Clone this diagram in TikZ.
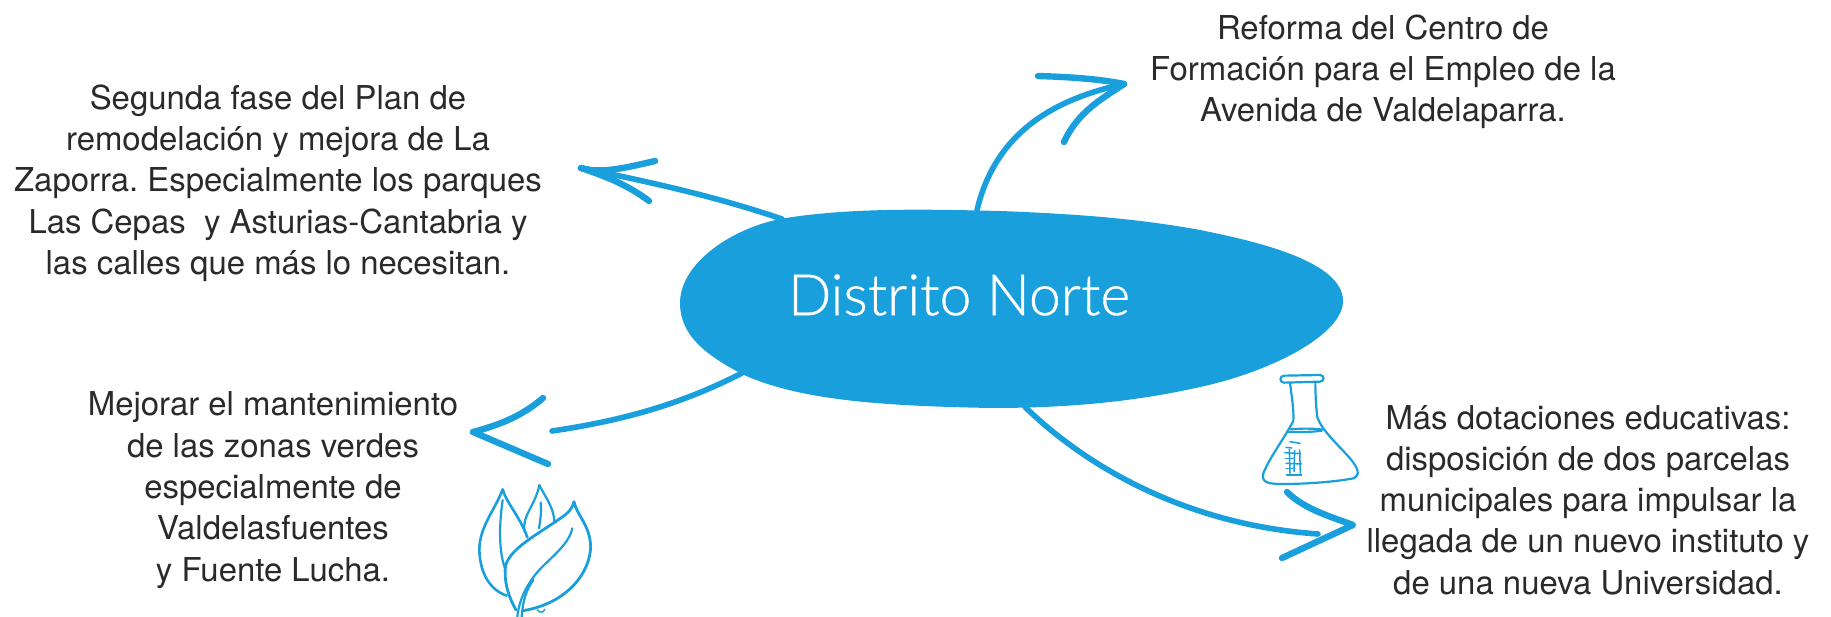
\documentclass[tikz,border=0pt]{standalone}
\usepackage{fontspec}
\setmainfont{TeX Gyre Heros}
\newfontfamily\titlefont{Lato}[UprightFont=* Light,FakeBold=0.6]
\definecolor{azul}{HTML}{189FDC}
\definecolor{tinta}{HTML}{2B2A29}
\frenchspacing
\tikzset{
  label text/.style={text=tinta,align=center,inner sep=0pt,font=\fontsize{32.9}{41.3}\selectfont},
  shaft/.style={draw=azul,line width=5.6pt,line cap=round,line join=round},
  barb/.style={draw=azul,line width=6.4pt,line cap=round,line join=round},
  sketch/.style={draw=azul,line width=2.2pt,line cap=round,line join=round},
  sketchthin/.style={draw=azul,line width=1.5pt,line cap=round,line join=round},
}
\begin{document}
\begin{tikzpicture}[x=1pt,y=-1pt]
\useasboundingbox (0,0) rectangle (1831,617);
% central blob
\fill[azul] (680,303) .. controls (680,262) and (735,226) .. (786,218)
  .. controls (850,208) and (920,209) .. (1000,211)
  .. controls (1080,214) and (1140,219) .. (1200,230)
  .. controls (1260,242) and (1343,262) .. (1343,301)
  .. controls (1343,335) and (1270,372) .. (1200,387)
  .. controls (1130,403) and (1060,408) .. (992,408)
  .. controls (880,406) and (800,400) .. (744,375)
  .. controls (705,355) and (680,335) .. (680,303) -- cycle;
\node[text=white,inner sep=0pt,font=\titlefont\fontsize{57}{57}\selectfont] (centro) at (959,295) {Distrito Norte};
% labels
\node[label text] (zaporra) at (278,183) {Segunda fase del Plan de\\remodelación y mejora de La\\Zaporra. Especialmente los parques\\Las Cepas\ \ y Asturias-Cantabria y\\las calles que más lo necesitan.};
\node[label text] (reforma) at (1383,72) {Reforma del Centro de\\Formación para el Empleo de la\\Avenida de Valdelaparra.};
\node[label text] (verdes) at (273,490) {Mejorar el mantenimiento\\de las zonas verdes\\especialmente de\\Valdelasfuentes\\y Fuente Lucha.};
\node[label text] (dotaciones) at (1588,500) {Más dotaciones educativas:\\disposición de dos parcelas\\municipales para impulsar la\\llegada de un nuevo instituto y\\de una nueva Universidad.};
% connector anchors
\coordinate (a1s) at (782,219); \coordinate (a1t) at (581,168);
\coordinate (a1u) at (655,161); \coordinate (a1d) at (649,201);
\coordinate (a2s) at (977,210); \coordinate (a2t) at (1124,84);
\coordinate (a2u) at (1038,76); \coordinate (a2d) at (1064,142);
\coordinate (a3s) at (742,373); \coordinate (a3e) at (552,431); \coordinate (a3t) at (473,432);
\coordinate (a3u) at (543,398); \coordinate (a3d) at (548,464);
\coordinate (a4s) at (1025,407); \coordinate (a4e) at (1318,534); \coordinate (a4t) at (1353,525);
\coordinate (a4u) at (1287,492); \coordinate (a4d) at (1282,558);
% arrow: La Zaporra
\draw[shaft] (a1s) .. controls (720,198) and (660,184) .. (a1t);
\draw[barb] (a1u) .. controls (625,168) and (600,174) .. (a1t);
\draw[barb] (a1t) .. controls (605,176) and (628,185) .. (a1d);
% arrow: Reforma
\draw[shaft] (a2s) .. controls (995,135) and (1050,100) .. (a2t);
\draw[barb] (a2u) .. controls (1070,77) and (1100,79) .. (a2t);
\draw[barb] (a2d) .. controls (1078,112) and (1100,100) .. (a2t);
% arrow: zonas verdes
\draw[shaft] (a3s) .. controls (680,405) and (620,421) .. (a3e);
\draw[barb] (a3u) .. controls (520,418) and (495,426) .. (a3t) -- (a3d);
% arrow: dotaciones
\draw[shaft] (a4s) .. controls (1090,470) and (1190,525) .. (a4e);
\draw[barb] (a4u) .. controls (1305,510) and (1335,518) .. (a4t) -- (a4d);
% leaves (traced at 3x)
\begin{scope}[shift={(440,400)},scale=1/3]
 \draw[sketch,line width=2.6pt] (200,587) .. controls (150,570) and (120,520) .. (118,450)
   .. controls (118,380) and (165,330) .. (188,268)
   .. controls (200,310) and (240,350) .. (262,412);
 \draw[sketch] (188,300) .. controls (178,370) and (175,450) .. (195,505);
 \draw[sketch] (254,395) .. controls (245,345) and (285,320) .. (298,255)
   .. controls (315,290) and (340,320) .. (343,362);
 \draw[sketch] (302,308) .. controls (305,340) and (300,365) .. (297,385);
 \draw[sketch,line width=2.8pt] (228,630) .. controls (205,590) and (190,540) .. (197,495)
   .. controls (215,440) and (300,400) .. (375,345)
   .. controls (388,335) and (398,322) .. (402,305)
   .. controls (410,345) and (450,375) .. (452,440)
   .. controls (450,520) and (380,610) .. (250,632);
 \draw[sketch] (397,385) .. controls (385,440) and (320,480) .. (285,525)
   .. controls (255,565) and (238,600) .. (232,650);
 \draw[sketch] (280,540) .. controls (258,570) and (248,605) .. (245,650);
 \draw[sketchthin] (293,630) .. controls (298,640) and (312,638) .. (314,628);
\end{scope}
% flask (traced at 3x)
\begin{scope}[shift={(1240,360)},scale=1/3]
 \draw[sketch] (132,47) -- (240,45) .. controls (254,45) and (254,64) .. (240,65) -- (132,68) .. controls (118,68) and (118,47) .. (132,47) -- cycle;
 \draw[sketch] (150,68) .. controls (155,110) and (162,150) .. (160,183)
   .. controls (130,240) and (90,290) .. (70,340)
   .. controls (62,370) and (90,372) .. (130,372)
   .. controls (200,372) and (290,365) .. (340,355)
   .. controls (362,345) and (355,325) .. (330,295)
   .. controls (290,250) and (245,210) .. (232,172)
   .. controls (228,140) and (226,100) .. (226,66);
 \draw[sketch] (152,208) .. controls (185,205) and (220,205) .. (247,209);
 \draw[sketch] (146,216) .. controls (185,217) and (220,216) .. (245,212);
 \draw[sketchthin] (150,245) -- (180,250);
 \draw[sketchthin] (138,262) -- (155,264);
 \draw[sketchthin] (134,278) -- (182,281);
 \draw[sketchthin] (136,295) -- (160,295);
 \draw[sketchthin] (138,310) -- (185,312);
 \draw[sketchthin] (138,325) -- (162,325);
 \draw[sketchthin] (140,345) -- (185,345);
 \draw[sketchthin] (148,268) -- (150,340);
 \draw[sketchthin] (164,272) -- (162,335);
 \draw[sketchthin] (179,270) -- (181,340);
\end{scope}
\end{tikzpicture}
\end{document}
